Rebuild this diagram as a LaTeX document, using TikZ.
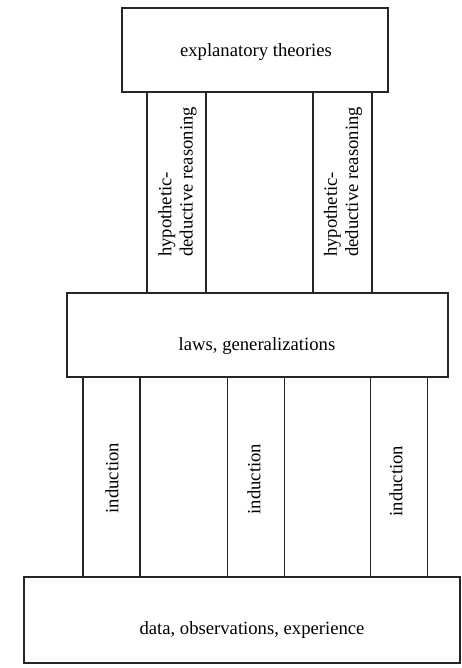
\documentclass[tikz,border=0pt]{standalone}
\usepackage{fontspec}
\setmainfont{Liberation Serif}
\begin{document}
\begin{tikzpicture}[x=0.75pt,y=-0.75pt,
  box/.style={draw=black!85, line width=0.9pt, fill=white, inner sep=0pt, rectangle},
  pillar/.style={draw=black!85, line width=0.9pt, inner sep=0pt, rectangle, minimum height=150.75pt},
  lbl/.style={font=\fontsize{14}{16}\selectfont, inner sep=0pt},
  vlbl/.style={lbl, rotate=90, align=left}]
\useasboundingbox (0,0) rectangle (461,668);
% hypothetic-deductive pillars
\node[pillar, minimum width=44.25pt] (hd1) at (176.5,192.5) {};
\node[pillar, minimum width=44.25pt] (hd2) at (342.5,192.5) {};
% induction pillars
\node[pillar, minimum width=42.75pt] (in1) at (111.5,477.5) {};
\node[pillar, minimum width=42.75pt] (in2) at (256,477.5) {};
\node[pillar, minimum width=42.75pt] (in3) at (399,477.5) {};
% boxes
\node[box, minimum width=199.5pt, minimum height=63pt] (top) at (255,50) {};
\node[box, minimum width=285.75pt, minimum height=63pt] (mid) at (257.5,335) {};
\node[box, minimum width=327pt, minimum height=64.5pt] (bot) at (242,620) {};
% labels
\node[lbl] (ttop) at (256,52) {explanatory theories};
\node[lbl] (tmid) at (257,346) {laws, generalizations};
\node[lbl] (tbot) at (252,630) {data, observations, experience};
\node[vlbl] (thd1) at (177.5,182) {hypothetic-\\deductive reasoning};
\node[vlbl] (thd2) at (343,182) {hypothetic-\\deductive reasoning};
\node[vlbl] (tin1) at (112,478) {induction};
\node[vlbl] (tin2) at (254,479) {induction};
\node[vlbl] (tin3) at (396,481) {induction};
\end{tikzpicture}
\end{document}
